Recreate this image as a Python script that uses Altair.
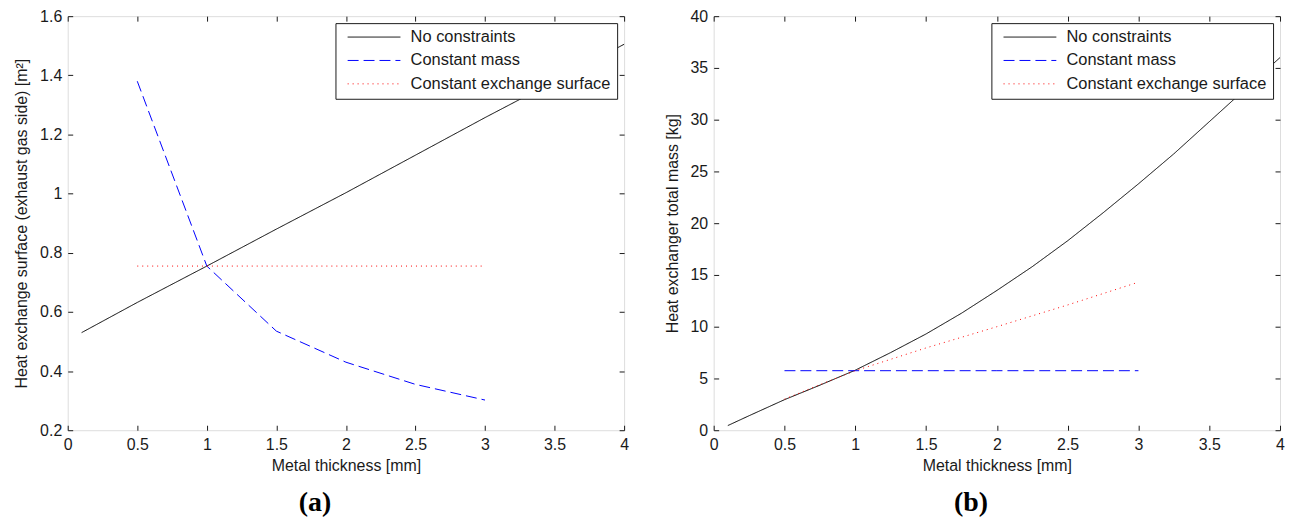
import altair as alt
import pandas as pd

# ---------------- data ----------------
series = ["No constraints", "Constant mass", "Constant exchange surface"]
colors = ["#000000", "#0000FF", "#FF0000"]
dashes = [[1, 0], [11, 5], [1, 4]]

x_ticks = [0, 0.5, 1, 1.5, 2, 2.5, 3, 3.5, 4]
a_y_ticks = [0.2, 0.4, 0.6, 0.8, 1.0, 1.2, 1.4, 1.6]
b_y_ticks = [0, 5, 10, 15, 20, 25, 30, 35, 40]

# panel (a): heat exchange surface [m2]
a_nc_x = [0.1, 0.5, 1.0, 1.5, 2.0, 2.5, 3.0, 3.5, 4.0]
a_nc_y = [0.53, 0.632, 0.755, 0.88, 1.003, 1.13, 1.257, 1.38, 1.505]
a_cm_x = [0.5, 1.0, 1.5, 2.0, 2.5, 3.0]
a_cm_y = [1.38, 0.755, 0.535, 0.43, 0.355, 0.302]
a_ces_x = [0.5, 1.0, 1.5, 2.0, 2.5, 3.0]
a_ces_y = [0.755, 0.755, 0.755, 0.755, 0.755, 0.755]

# panel (b): heat exchanger total mass [kg]
b_nc_x = [0.1, 0.25, 0.5, 0.75, 1.0, 1.25, 1.5, 1.75, 2.0, 2.25, 2.5, 2.75, 3.0, 3.25, 3.5, 3.75, 4.0]
b_nc_y = [0.45, 1.4, 2.95, 4.35, 5.8, 7.5, 9.3, 11.3, 13.5, 15.8, 18.3, 21.0, 23.8, 26.7, 29.8, 32.9, 36.0]
b_cm_x = [0.5, 1.0, 1.5, 2.0, 2.5, 3.0]
b_cm_y = [5.75, 5.75, 5.75, 5.75, 5.75, 5.75]
b_ces_x = [0.5, 0.75, 1.0, 1.5, 2.0, 2.5, 3.0]
b_ces_y = [3.0, 4.4, 5.75, 7.95, 10.0, 12.1, 14.3]


def frame(xs, ys, name):
    return pd.DataFrame({"x": xs, "y": ys, "series": name})


df_a = pd.concat([frame(a_nc_x, a_nc_y, series[0]),
                  frame(a_cm_x, a_cm_y, series[1]),
                  frame(a_ces_x, a_ces_y, series[2])], ignore_index=True)
df_b = pd.concat([frame(b_nc_x, b_nc_y, series[0]),
                  frame(b_cm_x, b_cm_y, series[1]),
                  frame(b_ces_x, b_ces_y, series[2])], ignore_index=True)

FONT = "Liberation Sans"
INK = "#1a1a1a"
H = 416
# legend sample line: 53 px long (custom path scaled by sqrt(225)/2 = 7.5)
LEG_SYMBOL = "M-3.5333,0H3.5333"


def tick_axis(orient, offset, values):
    return alt.Axis(orient=orient, offset=offset, values=values, labels=False,
                    domain=False, grid=False, ticks=True, tickSize=5,
                    tickColor=INK, tickWidth=1, title=None)


def panel(df, width, y_domain, y_ticks, y_title, y_format, caption, caption_dx, leg_offset):
    xs = alt.Scale(domain=[0, 4], nice=False, zero=False)
    ys = alt.Scale(domain=y_domain, nice=False, zero=False)
    leg = alt.Legend(title=None, orient="top-right", offset=leg_offset,
                     fillColor="white", strokeColor=INK, padding=6,
                     cornerRadius=0, symbolType=LEG_SYMBOL, symbolSize=225,
                     symbolStrokeWidth=1, symbolOffset=24.5, clipHeight=16,
                     labelFont=FONT, labelFontSize=16.5, labelColor=INK,
                     labelOffset=28.5, labelLimit=400, rowPadding=6.5)
    main = alt.Chart(df).mark_line(strokeWidth=1).encode(
        x=alt.X("x:Q", scale=xs,
                axis=alt.Axis(values=x_ticks, format=".1~f", title="Metal thickness [mm]",
                              ticks=False, tickSize=0, domain=False, grid=False,
                              labelPadding=6, titlePadding=5, labelFlush=False,
                              labelOverlap=False, labelFont=FONT, labelFontSize=16,
                              titleFont=FONT, titleFontSize=16, titleFontWeight="normal",
                              labelColor=INK, titleColor=INK, titleLimit=800)),
        y=alt.Y("y:Q", scale=ys,
                axis=alt.Axis(values=y_ticks, format=y_format, title=y_title,
                              ticks=False, tickSize=0, domain=False, grid=False,
                              labelPadding=6, titlePadding=10, labelFlush=False,
                              labelOverlap=False, labelFont=FONT, labelFontSize=16,
                              titleFont=FONT, titleFontSize=16, titleFontWeight="normal",
                              labelColor=INK, titleColor=INK, titleLimit=800)),
        color=alt.Color("series:N", scale=alt.Scale(domain=series, range=colors), legend=leg),
        strokeDash=alt.StrokeDash("series:N", scale=alt.Scale(domain=series, range=dashes), legend=leg),
    )
    ghost = alt.Chart(df).mark_line(strokeOpacity=0)
    t1 = ghost.encode(
        x=alt.X("x:Q", scale=xs, axis=tick_axis("top", -H, x_ticks)),
        y=alt.Y("y:Q", scale=ys, axis=tick_axis("right", -width, y_ticks)),
    )
    t2 = ghost.encode(
        x=alt.X("x:Q", scale=xs, axis=tick_axis("bottom", -H, x_ticks)),
        y=alt.Y("y:Q", scale=ys, axis=tick_axis("left", -width, y_ticks)),
    )
    return alt.layer(main, t1, t2).resolve_axis(x="independent", y="independent").properties(
        width=width, height=H,
        title=alt.TitleParams(text=caption, orient="bottom", anchor="middle", frame="group",
                              font="Liberation Serif", fontSize=28, fontWeight="bold",
                              color="black", offset=16, dx=caption_dx),
    )


pa = panel(df_a, 559, [0.2, 1.6], a_y_ticks,
           "Heat exchange surface (exhaust gas side) [m²]", ".1~f", "(a)", -31, 7)
pb = panel(df_b, 569, [0, 40], b_y_ticks,
           "Heat exchanger total mass [kg]", "d", "(b)", -26, 7)

chart = alt.hconcat(pa, pb, spacing=34).resolve_scale(
    color="independent", strokeDash="independent"
).resolve_legend(color="independent", strokeDash="independent").properties(
    padding={"left": 5, "top": -2, "right": 0, "bottom": 0}
).configure_view(stroke=INK, strokeWidth=1).configure(background="white")

chart.save("out.html", embed_options={"renderer": "svg", "actions": False})
